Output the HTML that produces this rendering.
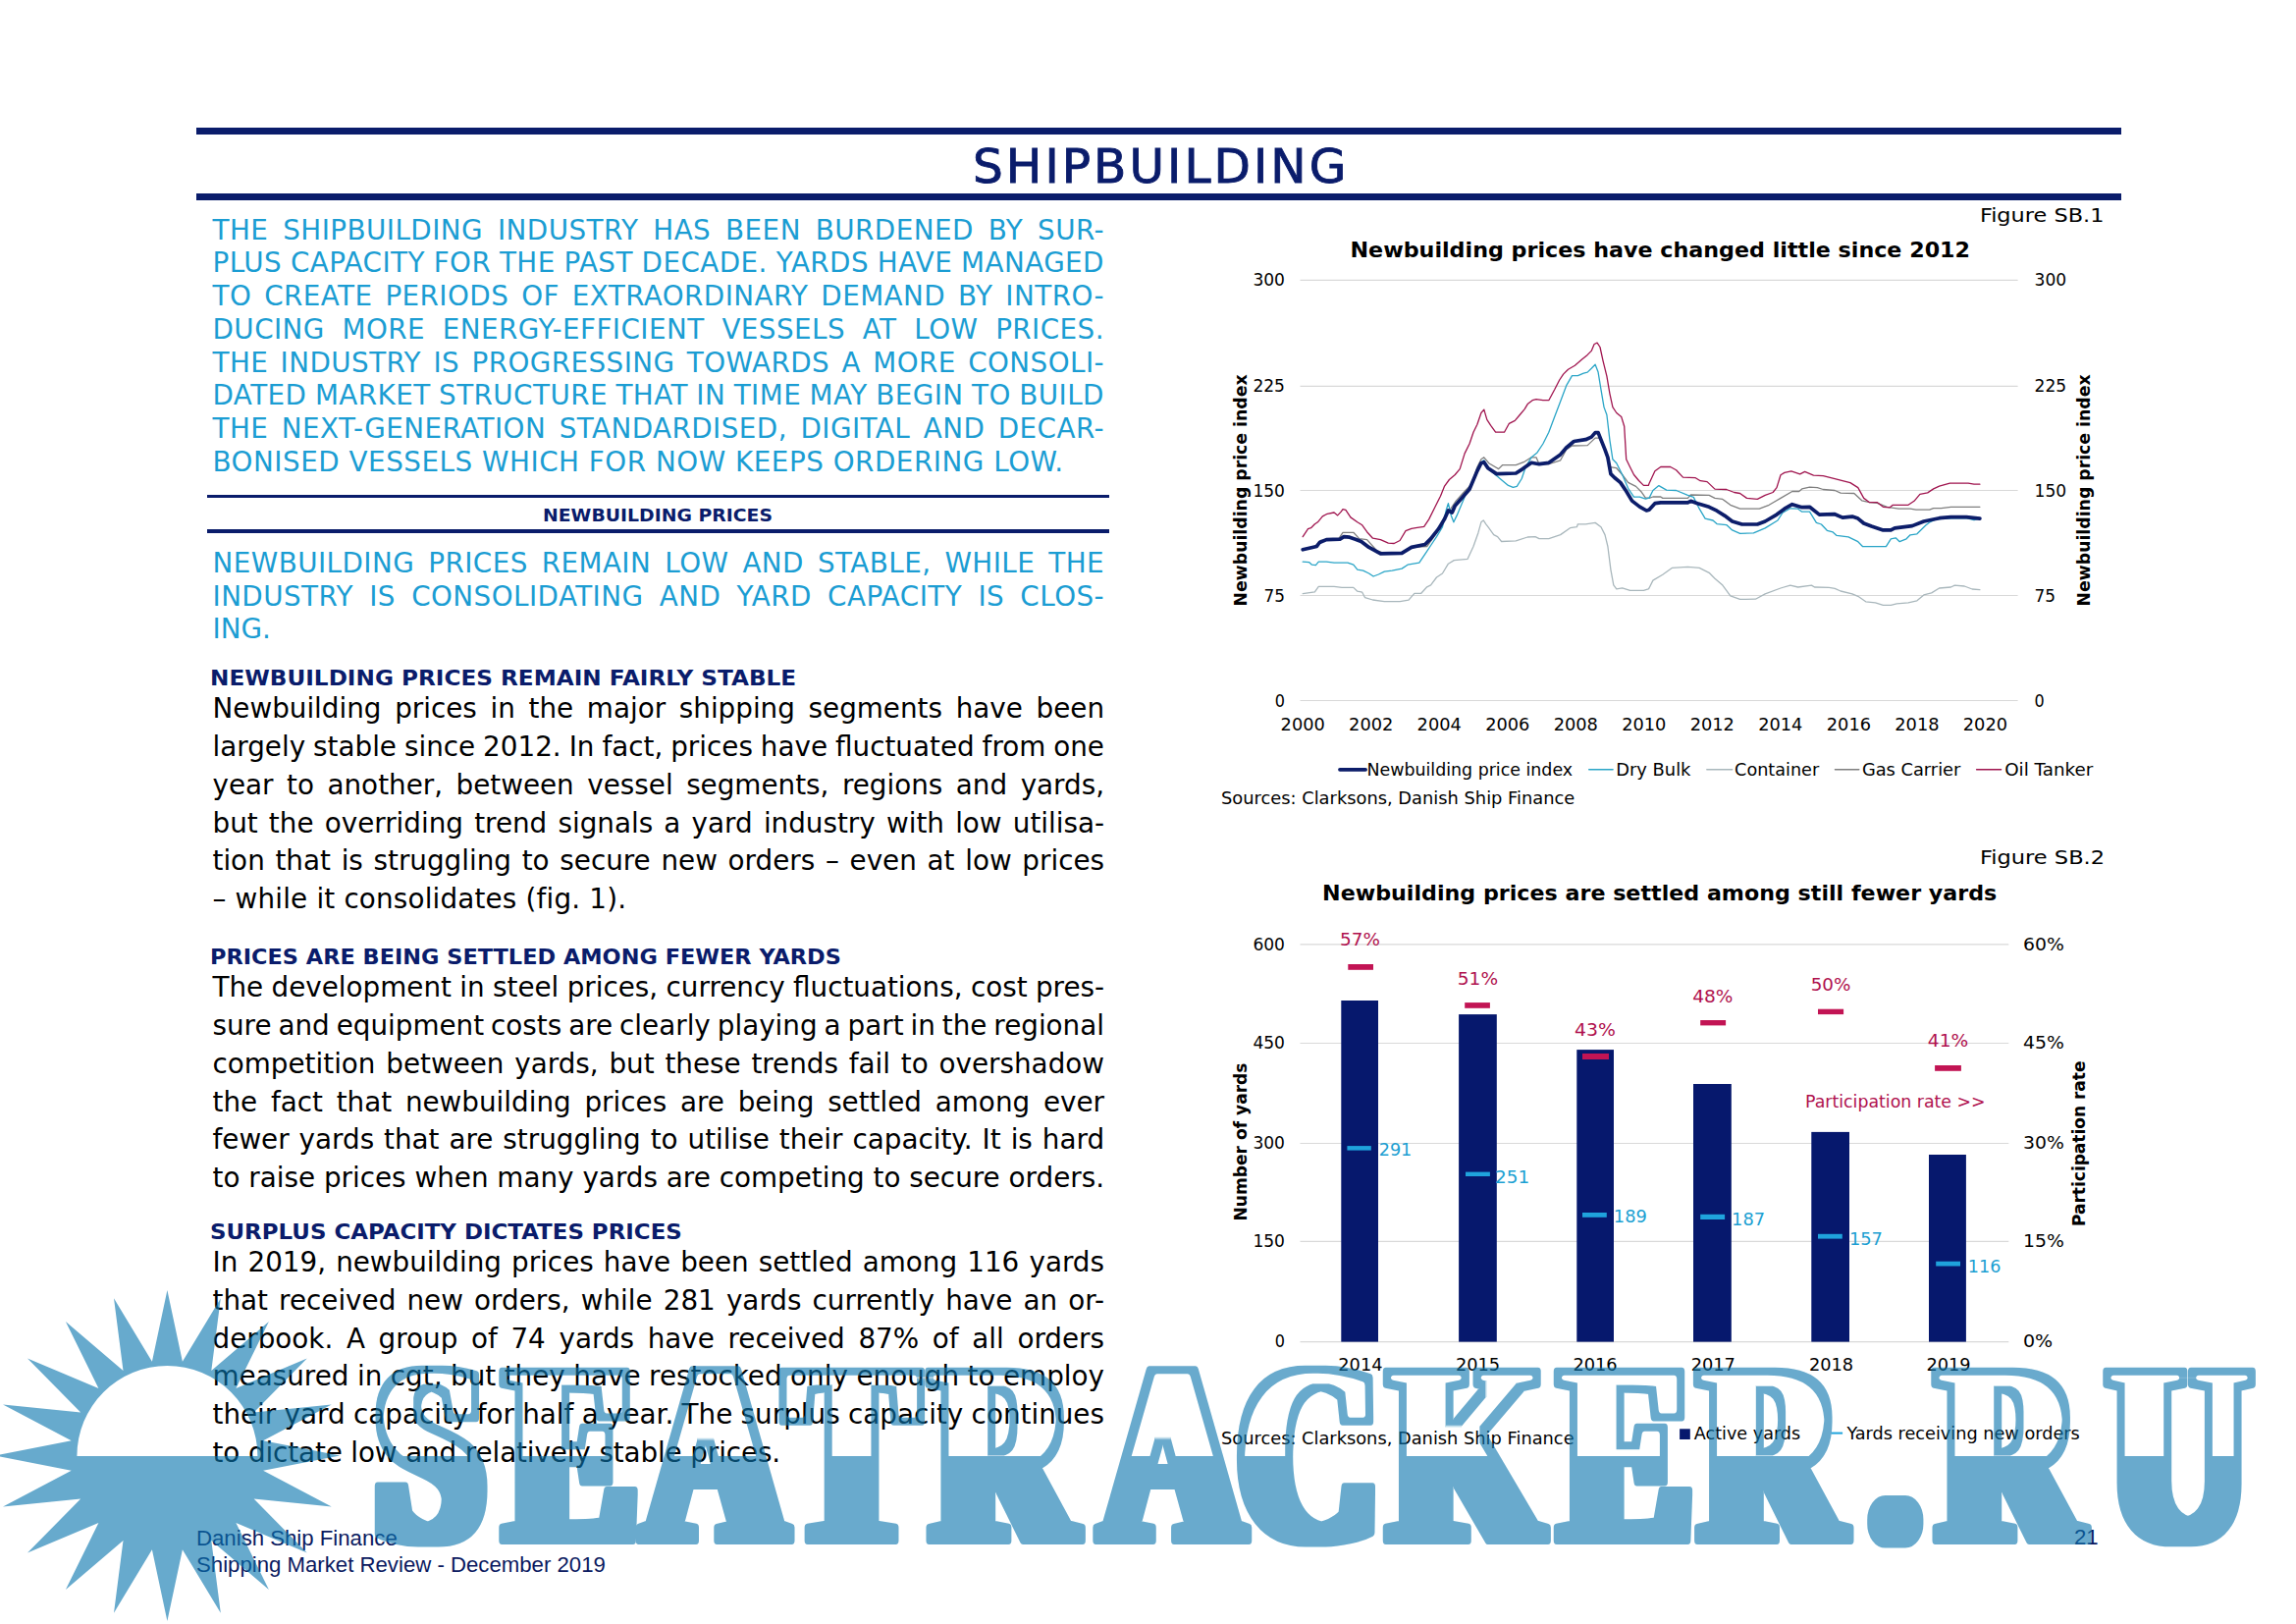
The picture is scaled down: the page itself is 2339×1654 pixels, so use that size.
<!DOCTYPE html>
<html lang="en"><head><meta charset="utf-8"><title>Shipbuilding - Shipping Market Review December 2019</title>
<style>
html,body{margin:0;padding:0;background:#fff}
body{width:2339px;height:1654px;position:relative;overflow:hidden;font-family:"DejaVu Sans", "Liberation Sans", sans-serif;color:#000}
.rule{position:absolute;background:#0a1c6b}
.ln{position:absolute;left:216.5px;white-space:nowrap;line-height:1;margin:0;display:block}
p{margin:0}
.intro{font-size:27.8px;color:#1b9dd3;letter-spacing:0.44px}
.body{font-size:27.8px;color:#000}
.h{font-size:21.2px;font-weight:700;color:#0a1c6b;transform-origin:0 0}
h1{position:absolute;margin:0;font-weight:400;color:#0a1c6b;line-height:1;white-space:nowrap;-webkit-text-stroke:0.9px #0a1c6b}
h2{position:absolute;margin:0;font-weight:700;color:#0a1c6b;line-height:1;white-space:nowrap}
.foot{position:absolute;font-family:"Liberation Sans", sans-serif;color:#0b1a60;font-size:22.2px;line-height:1;white-space:nowrap}
svg{position:absolute;left:0;top:0}
svg text{font-family:"DejaVu Sans", "Liberation Sans", sans-serif}
#watermark text{font-family:"Liberation Serif","DejaVu Serif",serif;font-weight:700}
</style></head><body>

<header>
<div class="rule" style="left:200px;top:130px;width:1961px;height:7px"></div>
<div class="rule" style="left:200px;top:197px;width:1961px;height:6.5px"></div>
<h1 style="left:991.0px;top:145.1px;font-size:48.6px;letter-spacing:3.02px">SHIPBUILDING</h1>
</header>
<main>
<section id="text-column">
<p class="lead">
<span class="ln intro" style="top:220.5px;word-spacing:5.66px;">THE SHIPBUILDING INDUSTRY HAS BEEN BURDENED BY SUR-</span>
<span class="ln intro" style="top:254.2px;word-spacing:-0.51px;">PLUS CAPACITY FOR THE PAST DECADE. YARDS HAVE MANAGED</span>
<span class="ln intro" style="top:288.0px;word-spacing:3.63px;">TO CREATE PERIODS OF EXTRAORDINARY DEMAND BY INTRO-</span>
<span class="ln intro" style="top:321.7px;word-spacing:8.47px;">DUCING MORE ENERGY-EFFICIENT VESSELS AT LOW PRICES.</span>
<span class="ln intro" style="top:355.5px;word-spacing:3.08px;">THE INDUSTRY IS PROGRESSING TOWARDS A MORE CONSOLI-</span>
<span class="ln intro" style="top:389.2px;word-spacing:-0.81px;">DATED MARKET STRUCTURE THAT IN TIME MAY BEGIN TO BUILD</span>
<span class="ln intro" style="top:423.0px;word-spacing:4.24px;">THE NEXT-GENERATION STANDARDISED, DIGITAL AND DECAR-</span>
<span class="ln intro" style="top:456.7px;letter-spacing:0.515px;">BONISED VESSELS WHICH FOR NOW KEEPS ORDERING LOW.</span>
</p>
<div class="rule" style="left:211px;top:504px;width:919px;height:3.4px"></div><h2 style="left:553.3px;top:516.3px;font-size:18px;transform-origin:0 0;transform:scaleX(1.0461)">NEWBUILDING PRICES</h2><div class="rule" style="left:211px;top:539.3px;width:919px;height:3.6px"></div>
<p class="lead">
<span class="ln intro" style="top:559.9px;word-spacing:4.71px;">NEWBUILDING PRICES REMAIN LOW AND STABLE, WHILE THE</span>
<span class="ln intro" style="top:593.5px;word-spacing:6.99px;">INDUSTRY IS CONSOLIDATING AND YARD CAPACITY IS CLOS-</span>
<span class="ln intro" style="top:627.1px;letter-spacing:-0.019px;">ING.</span>
</p>
<h3 class="ln h" style="top:679.7px;transform:scaleX(1.0936);left:214.3px;">NEWBUILDING PRICES REMAIN FAIRLY STABLE</h3>
<p class="para">
<span class="ln body" style="top:708.1px;word-spacing:4.85px;">Newbuilding prices in the major shipping segments have been</span>
<span class="ln body" style="top:746.9px;word-spacing:-0.87px;">largely stable since 2012. In fact, prices have fluctuated from one</span>
<span class="ln body" style="top:785.7px;word-spacing:4.69px;">year to another, between vessel segments, regions and yards,</span>
<span class="ln body" style="top:824.5px;word-spacing:2.37px;">but the overriding trend signals a yard industry with low utilisa-</span>
<span class="ln body" style="top:863.3px;word-spacing:1.88px;">tion that is struggling to secure new orders – even at low prices</span>
<span class="ln body" style="top:902.1px;letter-spacing:0.178px;">– while it consolidates (fig. 1).</span>
</p>
<h3 class="ln h" style="top:963.9px;transform:scaleX(1.0585);left:214.3px;">PRICES ARE BEING SETTLED AMONG FEWER YARDS</h3>
<p class="para">
<span class="ln body" style="top:992.3px;word-spacing:-0.47px;">The development in steel prices, currency fluctuations, cost pres-</span>
<span class="ln body" style="top:1031.0px;word-spacing:-1.89px;">sure and equipment costs are clearly playing a part in the regional</span>
<span class="ln body" style="top:1069.8px;word-spacing:1.96px;">competition between yards, but these trends fail to overshadow</span>
<span class="ln body" style="top:1108.5px;word-spacing:4.94px;">the fact that newbuilding prices are being settled among ever</span>
<span class="ln body" style="top:1147.3px;word-spacing:1.10px;">fewer yards that are struggling to utilise their capacity. It is hard</span>
<span class="ln body" style="top:1186.0px;word-spacing:0.03px;">to raise prices when many yards are competing to secure orders.</span>
</p>
<h3 class="ln h" style="top:1243.8px;transform:scaleX(1.0815);left:214.3px;">SURPLUS CAPACITY DICTATES PRICES</h3>
<p class="para">
<span class="ln body" style="top:1272.1px;word-spacing:1.29px;">In 2019, newbuilding prices have been settled among 116 yards</span>
<span class="ln body" style="top:1310.8px;word-spacing:2.31px;">that received new orders, while 281 yards currently have an or-</span>
<span class="ln body" style="top:1349.5px;word-spacing:4.82px;">derbook. A group of 74 yards have received 87% of all orders</span>
<span class="ln body" style="top:1388.2px;word-spacing:-0.29px;">measured in cgt, but they have restocked only enough to employ</span>
<span class="ln body" style="top:1426.9px;word-spacing:-0.52px;">their yard capacity for half a year. The surplus capacity continues</span>
<span class="ln body" style="top:1465.6px;letter-spacing:-0.118px;">to dictate low and relatively stable prices.</span>
</p>
</section>
<section id="figures">
<svg width="2339" height="1654" viewBox="0 0 2339 1654" font-size="18">
<g id="chart-sb1">
<text x="2016.9" y="225.7" textLength="126.5" lengthAdjust="spacingAndGlyphs" font-size="19.4">Figure SB.1</text>
<text x="1375.5" y="261.6" textLength="631.5" lengthAdjust="spacingAndGlyphs" font-weight="700" font-size="20.8">Newbuilding prices have changed little since 2012</text>
<line x1="1324.5" x2="2055.6" y1="285.4" y2="285.4" stroke="#d9d9d9" stroke-width="1.2"/>
<line x1="1324.5" x2="2055.6" y1="393.3" y2="393.3" stroke="#d9d9d9" stroke-width="1.2"/>
<line x1="1324.5" x2="2055.6" y1="499.5" y2="499.5" stroke="#d9d9d9" stroke-width="1.2"/>
<line x1="1324.5" x2="2055.6" y1="606.5" y2="606.5" stroke="#d9d9d9" stroke-width="1.2"/>
<line x1="1324.5" x2="2055.6" y1="713.5" y2="713.5" stroke="#d9d9d9" stroke-width="1.2"/>
<text x="1276.4" y="291.4" textLength="32.6" lengthAdjust="spacingAndGlyphs">300</text>
<text x="2072.6" y="291.4" textLength="32.6" lengthAdjust="spacingAndGlyphs">300</text>
<text x="1276.4" y="399.3" textLength="32.6" lengthAdjust="spacingAndGlyphs">225</text>
<text x="2072.6" y="399.3" textLength="32.6" lengthAdjust="spacingAndGlyphs">225</text>
<text x="1276.4" y="505.5" textLength="32.6" lengthAdjust="spacingAndGlyphs">150</text>
<text x="2072.6" y="505.5" textLength="32.6" lengthAdjust="spacingAndGlyphs">150</text>
<text x="1287.5" y="612.5" textLength="21.5" lengthAdjust="spacingAndGlyphs">75</text>
<text x="2072.6" y="612.5" textLength="21.5" lengthAdjust="spacingAndGlyphs">75</text>
<text x="1298.8" y="719.5" textLength="10.2" lengthAdjust="spacingAndGlyphs">0</text>
<text x="2072.6" y="719.5" textLength="10.2" lengthAdjust="spacingAndGlyphs">0</text>
<text x="1304.6" y="743.6" textLength="45.2" lengthAdjust="spacingAndGlyphs">2000</text>
<text x="1374.1" y="743.6" textLength="45.2" lengthAdjust="spacingAndGlyphs">2002</text>
<text x="1443.6" y="743.6" textLength="45.2" lengthAdjust="spacingAndGlyphs">2004</text>
<text x="1513.2" y="743.6" textLength="45.2" lengthAdjust="spacingAndGlyphs">2006</text>
<text x="1582.7" y="743.6" textLength="45.2" lengthAdjust="spacingAndGlyphs">2008</text>
<text x="1652.2" y="743.6" textLength="45.2" lengthAdjust="spacingAndGlyphs">2010</text>
<text x="1721.7" y="743.6" textLength="45.2" lengthAdjust="spacingAndGlyphs">2012</text>
<text x="1791.2" y="743.6" textLength="45.2" lengthAdjust="spacingAndGlyphs">2014</text>
<text x="1860.8" y="743.6" textLength="45.2" lengthAdjust="spacingAndGlyphs">2016</text>
<text x="1930.3" y="743.6" textLength="45.2" lengthAdjust="spacingAndGlyphs">2018</text>
<text x="1999.8" y="743.6" textLength="45.2" lengthAdjust="spacingAndGlyphs">2020</text>
<polyline fill="none" stroke="#a9b7bc" stroke-width="1.3" stroke-linejoin="round" stroke-linecap="round" points="1327.2,604.7 1339.4,602.8 1343.3,597.4 1359.1,597.4 1367.0,598.4 1378.8,598.4 1382.8,602.2 1387.7,603.2 1390.6,608.7 1398.5,611.0 1410.3,612.6 1426.1,612.6 1435.0,611.2 1440.9,604.3 1447.8,604.3 1453.7,597.8 1457.6,595.9 1463.5,588.0 1469.5,584.0 1475.4,574.2 1481.3,570.6 1495.1,569.3 1501.0,556.5 1505.9,542.7 1508.9,531.8 1511.2,529.9 1513.8,533.8 1516.7,537.7 1521.7,544.6 1525.6,546.6 1529.6,551.5 1544.3,550.9 1556.2,547.0 1564.0,546.6 1568.0,548.6 1577.8,548.6 1589.7,544.6 1599.5,537.7 1606.4,536.7 1607.4,533.8 1615.3,533.8 1625.1,532.4 1631.0,536.7 1635.0,544.6 1637.9,556.5 1640.9,580.1 1643.8,595.9 1646.8,599.8 1652.7,598.8 1660.6,601.4 1674.4,601.4 1679.3,599.8 1680.0,599.0 1683.9,591.1 1693.8,585.2 1703.6,578.3 1719.4,577.3 1731.2,578.3 1741.1,583.3 1747.0,589.2 1754.9,596.1 1762.8,606.9 1772.6,610.4 1788.4,610.2 1798.2,604.9 1814.0,599.0 1823.8,596.1 1831.7,598.0 1845.5,596.1 1848.5,598.0 1863.3,598.4 1869.2,599.4 1875.1,602.0 1886.9,604.9 1892.8,607.3 1900.7,612.8 1910.5,613.8 1918.4,616.4 1926.3,616.4 1932.2,614.8 1944.0,613.8 1952.9,611.8 1959.8,605.9 1967.7,603.9 1975.6,599.0 1987.4,598.0 1991.3,596.1 2001.2,597.0 2009.1,600.0 2016.9,600.6"/>
<polyline fill="none" stroke="#7f7f7f" stroke-width="1.3" stroke-linejoin="round" stroke-linecap="round" points="1327.2,559.4 1339.4,556.5 1345.3,550.5 1363.1,549.6 1368.0,542.3 1378.8,542.3 1384.7,548.6 1392.6,549.6 1402.5,560.8 1410.3,563.3 1428.1,562.4 1437.9,557.4 1453.7,556.5 1463.5,542.7 1471.4,526.9 1477.3,519.0 1483.3,510.1 1493.1,499.3 1499.0,493.4 1504.9,475.7 1508.9,467.8 1511.8,465.8 1516.7,471.7 1526.6,477.6 1530.5,473.7 1544.3,473.7 1552.2,470.7 1560.1,465.8 1565.0,465.8 1568.0,472.7 1577.8,472.7 1589.7,468.8 1595.6,457.9 1601.5,454.0 1617.2,453.6 1625.1,446.1 1629.1,446.1 1635.0,457.9 1639.9,475.7 1646.8,476.7 1652.7,483.5 1658.6,491.4 1666.5,495.4 1672.4,501.3 1676.4,507.2 1679.9,507.2 1680.0,507.4 1683.9,506.0 1691.8,506.0 1693.8,507.4 1719.4,507.4 1722.4,504.0 1741.1,504.4 1747.0,507.4 1754.9,508.4 1762.8,514.3 1772.6,518.2 1792.3,518.2 1802.2,514.3 1814.0,507.4 1825.8,500.5 1832.7,500.5 1835.7,497.9 1843.5,496.2 1851.4,496.6 1857.3,498.5 1869.2,499.5 1875.1,502.1 1888.9,502.5 1896.7,509.8 1904.6,511.7 1912.5,512.3 1922.4,516.3 1934.2,518.2 1946.0,518.2 1951.9,519.2 1965.7,519.2 1969.7,517.6 1977.5,517.6 1987.4,516.3 2016.9,516.3"/>
<polyline fill="none" stroke="#2aa5c7" stroke-width="1.3" stroke-linejoin="round" stroke-linecap="round" points="1327.2,572.2 1333.5,572.6 1336.5,575.2 1340.4,575.6 1343.3,572.2 1351.2,572.2 1359.1,573.2 1372.9,573.2 1378.8,575.2 1382.8,580.1 1388.7,581.1 1394.6,584.0 1399.1,587.0 1404.4,585.0 1410.3,582.1 1418.2,581.1 1428.1,579.1 1434.0,575.2 1445.8,573.2 1451.7,564.3 1457.6,555.5 1463.5,546.6 1469.5,536.7 1473.4,519.0 1475.4,512.7 1478.3,524.9 1480.9,531.8 1484.2,524.9 1489.2,513.1 1494.1,501.3 1499.0,493.4 1504.9,477.6 1508.9,470.7 1511.8,468.8 1514.8,473.7 1518.7,479.6 1524.6,484.5 1530.5,489.5 1536.5,494.4 1541.4,496.4 1545.3,495.4 1550.2,487.5 1554.2,475.7 1560.1,465.8 1566.0,460.9 1571.9,452.0 1577.8,440.2 1583.7,424.4 1589.7,408.7 1595.6,392.9 1601.5,382.7 1607.4,382.7 1613.3,380.1 1617.2,379.1 1621.2,375.2 1625.1,371.2 1628.1,379.1 1631.0,396.8 1634.0,414.6 1636.9,422.5 1639.9,448.1 1642.9,467.8 1646.8,471.7 1652.7,483.5 1658.6,497.3 1664.5,506.2 1670.4,506.2 1676.4,508.2 1679.9,507.2 1680.0,507.4 1683.9,499.5 1689.9,494.6 1697.7,499.1 1707.6,499.5 1719.4,504.4 1725.3,506.4 1731.2,518.2 1737.1,528.1 1745.0,530.0 1749.0,533.6 1758.8,534.6 1764.7,539.9 1772.6,543.4 1786.4,542.9 1798.2,537.9 1811.0,530.0 1816.0,522.2 1823.8,517.8 1831.7,518.2 1835.7,521.2 1843.5,521.2 1850.4,532.4 1855.4,534.0 1861.3,540.3 1867.2,541.9 1871.1,545.4 1883.0,546.8 1892.8,551.7 1897.7,556.7 1921.4,556.7 1926.3,548.8 1931.2,547.8 1935.2,551.7 1942.1,548.8 1946.0,544.8 1952.9,543.8 1961.8,535.0 1965.7,532.0 1971.6,529.1 1979.5,528.1 2003.2,527.7 2011.0,529.5 2016.9,528.1"/>
<polyline fill="none" stroke="#a0154f" stroke-width="1.3" stroke-linejoin="round" stroke-linecap="round" points="1327.2,546.6 1332.5,538.7 1335.5,537.7 1339.4,533.8 1342.4,531.8 1347.3,525.9 1352.2,523.3 1359.1,522.0 1362.7,524.9 1366.0,521.4 1368.0,518.6 1370.9,519.4 1375.9,526.9 1382.8,531.8 1387.7,534.8 1392.6,541.7 1398.5,548.2 1406.4,549.6 1414.3,553.1 1420.2,553.5 1426.1,550.5 1432.0,540.7 1437.9,538.3 1443.8,537.3 1450.7,536.4 1455.7,528.9 1461.6,517.0 1467.5,505.2 1471.4,495.4 1476.4,488.5 1482.3,483.5 1487.2,477.6 1492.1,461.9 1497.0,452.0 1501.0,440.2 1504.9,432.3 1508.9,420.5 1511.8,417.1 1514.8,427.4 1518.7,433.3 1523.6,440.2 1532.5,440.2 1537.4,431.3 1543.3,428.4 1548.3,422.5 1553.2,416.6 1556.2,411.6 1561.1,407.7 1565.0,406.7 1571.9,407.7 1577.8,407.7 1583.7,396.8 1588.7,387.0 1592.6,381.1 1597.5,376.2 1604.4,372.2 1611.3,366.3 1617.2,361.4 1621.2,357.4 1624.1,350.5 1627.1,349.2 1630.0,353.5 1633.0,367.3 1636.9,383.1 1639.9,400.8 1642.9,414.6 1646.8,420.5 1651.7,424.4 1654.7,434.3 1656.7,467.8 1660.6,475.7 1664.5,483.5 1669.5,489.5 1674.4,494.4 1679.3,494.4 1680.0,492.6 1685.9,479.8 1691.8,475.5 1701.7,475.5 1707.6,478.8 1714.5,486.1 1727.3,486.7 1732.2,489.7 1739.1,490.6 1747.0,498.1 1758.8,498.5 1766.7,501.5 1772.6,502.5 1779.5,507.4 1790.3,508.4 1798.2,504.4 1806.1,501.5 1810.0,496.6 1814.0,483.7 1817.9,481.4 1824.8,479.8 1833.7,482.8 1838.6,480.4 1847.5,484.1 1857.3,484.7 1869.2,487.7 1877.0,489.7 1884.9,491.6 1892.8,496.6 1898.7,507.4 1904.6,511.7 1912.5,511.7 1918.4,516.3 1925.3,516.8 1928.3,514.3 1944.0,514.3 1950.0,510.3 1955.9,503.4 1963.7,501.9 1969.7,497.9 1975.6,495.2 1986.4,492.2 2005.1,492.2 2011.0,493.2 2016.9,493.2"/>
<polyline fill="none" stroke="#0c1d6a" stroke-width="3.7" stroke-linejoin="round" stroke-linecap="round" points="1327.2,559.8 1341.4,556.5 1344.3,552.5 1351.2,549.6 1365.0,549.2 1369.0,546.6 1374.9,547.2 1380.8,549.2 1386.7,551.5 1394.6,557.4 1406.4,563.9 1428.1,563.3 1437.9,557.4 1451.7,554.5 1457.6,548.6 1465.5,538.7 1471.4,528.9 1475.4,520.0 1479.3,522.0 1482.3,515.1 1489.2,507.2 1497.0,498.3 1504.9,479.6 1508.9,471.7 1511.8,470.7 1515.8,476.7 1524.6,482.6 1544.3,482.0 1551.2,477.6 1560.1,471.3 1568.0,472.7 1577.8,471.3 1589.7,462.9 1595.6,456.0 1603.4,449.5 1615.3,447.7 1621.2,445.1 1625.1,440.6 1628.1,440.6 1635.0,457.9 1637.9,465.8 1640.9,482.6 1644.8,486.5 1650.7,491.4 1656.7,500.3 1662.6,510.1 1670.4,516.1 1677.3,520.0 1680.0,519.2 1685.9,512.7 1691.8,511.9 1719.4,511.9 1722.4,510.3 1729.3,512.7 1741.1,516.3 1749.0,520.2 1756.8,525.1 1764.7,531.0 1774.6,534.0 1790.3,534.0 1798.2,531.0 1810.0,524.1 1817.9,518.2 1825.8,513.7 1835.7,516.7 1843.5,516.3 1853.4,524.1 1869.2,523.7 1877.0,527.1 1886.9,526.1 1892.8,528.1 1898.7,533.0 1906.6,536.0 1918.4,539.9 1926.3,539.9 1930.2,537.9 1948.0,535.6 1959.8,531.0 1975.6,527.7 1987.4,526.7 2003.2,526.7 2016.9,528.1"/>
<text transform="translate(1269.6,617.4) rotate(-90)" font-weight="700" font-size="18" textLength="236" lengthAdjust="spacingAndGlyphs">Newbuilding price index</text>
<text transform="translate(2128.6,617.4) rotate(-90)" font-weight="700" font-size="18" textLength="236" lengthAdjust="spacingAndGlyphs">Newbuilding price index</text>
<line x1="1365.0" x2="1391.1" y1="783.8" y2="783.8" stroke="#0c1d6a" stroke-width="3.8" stroke-linecap="round"/>
<text x="1392.5" y="789.9" textLength="209.6" lengthAdjust="spacingAndGlyphs">Newbuilding price index</text>
<line x1="1618.7" x2="1643.1" y1="783.8" y2="783.8" stroke="#2aa5c7" stroke-width="1.4" stroke-linecap="round"/>
<text x="1646.2" y="789.9" textLength="76.3" lengthAdjust="spacingAndGlyphs">Dry Bulk</text>
<line x1="1738.8" x2="1764.7" y1="783.8" y2="783.8" stroke="#a9b7bc" stroke-width="1.4" stroke-linecap="round"/>
<text x="1767.1" y="789.9" textLength="86.1" lengthAdjust="spacingAndGlyphs">Container</text>
<line x1="1869.4" x2="1893.8" y1="783.8" y2="783.8" stroke="#7f7f7f" stroke-width="1.4" stroke-linecap="round"/>
<text x="1896.9" y="789.9" textLength="100.5" lengthAdjust="spacingAndGlyphs">Gas Carrier</text>
<line x1="2013.6" x2="2038.6" y1="783.8" y2="783.8" stroke="#a0154f" stroke-width="1.4" stroke-linecap="round"/>
<text x="2042.2" y="789.9" textLength="90.2" lengthAdjust="spacingAndGlyphs">Oil Tanker</text>
<text x="1244.0" y="818.7" textLength="360.3" lengthAdjust="spacingAndGlyphs">Sources: Clarksons, Danish Ship Finance</text>
</g>
<g id="chart-sb2">
<text x="2016.9" y="880.3" textLength="127.2" lengthAdjust="spacingAndGlyphs" font-size="19.4">Figure SB.2</text>
<text x="1347.1" y="916.6" textLength="687.2" lengthAdjust="spacingAndGlyphs" font-weight="700" font-size="20.8">Newbuilding prices are settled among still fewer yards</text>
<line x1="1324.5" x2="2046.3" y1="961.9" y2="961.9" stroke="#d9d9d9" stroke-width="1.2"/>
<line x1="1324.5" x2="2046.3" y1="1062.5" y2="1062.5" stroke="#d9d9d9" stroke-width="1.2"/>
<line x1="1324.5" x2="2046.3" y1="1164.5" y2="1164.5" stroke="#d9d9d9" stroke-width="1.2"/>
<line x1="1324.5" x2="2046.3" y1="1264.4" y2="1264.4" stroke="#d9d9d9" stroke-width="1.2"/>
<line x1="1324.5" x2="2046.3" y1="1366.6" y2="1366.6" stroke="#d9d9d9" stroke-width="1.2"/>
<text x="1276.4" y="967.5" textLength="32.6" lengthAdjust="spacingAndGlyphs">600</text>
<text x="2061.0" y="967.5" textLength="41.8" lengthAdjust="spacingAndGlyphs">60%</text>
<text x="1276.4" y="1068.1" textLength="32.6" lengthAdjust="spacingAndGlyphs">450</text>
<text x="2061.0" y="1068.1" textLength="41.8" lengthAdjust="spacingAndGlyphs">45%</text>
<text x="1276.4" y="1170.1" textLength="32.6" lengthAdjust="spacingAndGlyphs">300</text>
<text x="2061.0" y="1170.1" textLength="41.8" lengthAdjust="spacingAndGlyphs">30%</text>
<text x="1276.4" y="1270.0" textLength="32.6" lengthAdjust="spacingAndGlyphs">150</text>
<text x="2061.0" y="1270.0" textLength="41.8" lengthAdjust="spacingAndGlyphs">15%</text>
<text x="1298.8" y="1372.2" textLength="10.2" lengthAdjust="spacingAndGlyphs">0</text>
<text x="2061.0" y="1372.2" textLength="30.2" lengthAdjust="spacingAndGlyphs">0%</text>
<rect x="1366.3" y="1019.0" width="37.7" height="347.6" fill="#06186d"/>
<rect x="1486.1" y="1033.1" width="38.7" height="333.5" fill="#06186d"/>
<rect x="1606.3" y="1069.1" width="37.7" height="297.5" fill="#06186d"/>
<rect x="1725.0" y="1104.0" width="38.8" height="262.6" fill="#06186d"/>
<rect x="1845.3" y="1152.9" width="38.7" height="213.7" fill="#06186d"/>
<rect x="1965.0" y="1176.0" width="37.9" height="190.6" fill="#06186d"/>
<rect x="1373.3" y="982.0" width="25.7" height="5.8" fill="#c21454"/>
<text x="1365.1" y="963.4" textLength="40.8" lengthAdjust="spacingAndGlyphs" fill="#b0114e">57%</text>
<rect x="1492.2" y="1021.1" width="25.7" height="5.7" fill="#c21454"/>
<text x="1484.8" y="1002.6" textLength="41.3" lengthAdjust="spacingAndGlyphs" fill="#b0114e">51%</text>
<rect x="1612.0" y="1073.0" width="27.0" height="6.0" fill="#c21454"/>
<text x="1604.0" y="1054.9" textLength="41.8" lengthAdjust="spacingAndGlyphs" fill="#b0114e">43%</text>
<rect x="1732.2" y="1039.0" width="25.9" height="5.4" fill="#c21454"/>
<text x="1724.2" y="1020.5" textLength="41.3" lengthAdjust="spacingAndGlyphs" fill="#b0114e">48%</text>
<rect x="1852.0" y="1027.7" width="26.1" height="5.4" fill="#c21454"/>
<text x="1844.7" y="1008.5" textLength="40.8" lengthAdjust="spacingAndGlyphs" fill="#b0114e">50%</text>
<rect x="1971.1" y="1085.0" width="26.8" height="5.8" fill="#c21454"/>
<text x="1963.8" y="1065.8" textLength="41.4" lengthAdjust="spacingAndGlyphs" fill="#b0114e">41%</text>
<rect x="1372.4" y="1167.1" width="24.4" height="4.5" fill="#1fa3dc"/>
<text x="1404.7" y="1177.3" textLength="33.6" lengthAdjust="spacingAndGlyphs" fill="#1c9fd2">291</text>
<rect x="1493.0" y="1193.6" width="24.9" height="4.4" fill="#1fa3dc"/>
<text x="1523.0" y="1204.5" textLength="35.1" lengthAdjust="spacingAndGlyphs" fill="#1c9fd2">251</text>
<rect x="1612.0" y="1235.0" width="24.8" height="4.8" fill="#1fa3dc"/>
<text x="1643.8" y="1244.8" textLength="34.0" lengthAdjust="spacingAndGlyphs" fill="#1c9fd2">189</text>
<rect x="1732.2" y="1236.8" width="24.9" height="5.2" fill="#1fa3dc"/>
<text x="1764.1" y="1247.6" textLength="34.0" lengthAdjust="spacingAndGlyphs" fill="#1c9fd2">187</text>
<rect x="1852.0" y="1256.8" width="24.8" height="4.8" fill="#1fa3dc"/>
<text x="1883.9" y="1267.7" textLength="34.0" lengthAdjust="spacingAndGlyphs" fill="#1c9fd2">157</text>
<rect x="1972.2" y="1284.7" width="24.8" height="4.8" fill="#1fa3dc"/>
<text x="2004.8" y="1295.6" textLength="33.5" lengthAdjust="spacingAndGlyphs" fill="#1c9fd2">116</text>
<text x="1363.3" y="1395.7" textLength="45.2" lengthAdjust="spacingAndGlyphs">2014</text>
<text x="1482.9" y="1395.7" textLength="45.2" lengthAdjust="spacingAndGlyphs">2015</text>
<text x="1602.4" y="1395.7" textLength="45.2" lengthAdjust="spacingAndGlyphs">2016</text>
<text x="1722.7" y="1395.7" textLength="45.2" lengthAdjust="spacingAndGlyphs">2017</text>
<text x="1842.9" y="1395.7" textLength="45.2" lengthAdjust="spacingAndGlyphs">2018</text>
<text x="1962.4" y="1395.7" textLength="45.2" lengthAdjust="spacingAndGlyphs">2019</text>
<text x="1839.0" y="1127.7" textLength="183.6" lengthAdjust="spacingAndGlyphs" fill="#b0114e">Participation rate &gt;&gt;</text>
<text transform="translate(1269.6,1243.5) rotate(-90)" font-weight="700" font-size="18" textLength="161" lengthAdjust="spacingAndGlyphs">Number of yards</text>
<text transform="translate(2124.2,1249.0) rotate(-90)" font-weight="700" font-size="18" textLength="168.5" lengthAdjust="spacingAndGlyphs">Participation rate</text>
<rect x="1711.1" y="1455.3" width="10.7" height="10.7" fill="#06186d"/>
<text x="1725.8" y="1466.4" textLength="108.4" lengthAdjust="spacingAndGlyphs">Active yards</text>
<line x1="1865.5" x2="1877.1" y1="1459.6" y2="1459.6" stroke="#1fa3dc" stroke-width="2"/>
<text x="1881.4" y="1466.4" textLength="237.4" lengthAdjust="spacingAndGlyphs">Yards receiving new orders</text>
<text x="1244.0" y="1471.0" textLength="359.6" lengthAdjust="spacingAndGlyphs">Sources: Clarksons, Danish Ship Finance</text>
</g>
</svg>
</section>
</main>
<footer>
<div class="foot" style="left:200px;top:1556.2px">Danish Ship Finance</div>
<div class="foot" style="left:200px;top:1583.3px">Shipping Market Review - December 2019</div>
<div class="foot" style="left:2113px;top:1555.0px">21</div>
</footer>
<svg id="watermark" width="2339" height="1654" viewBox="0 0 2339 1654" style="pointer-events:none">
<defs>
<filter id="wm-solid" filterUnits="userSpaceOnUse" x="300" y="1340" width="2039" height="280"><feMorphology operator="dilate" radius="10 2"/></filter>
<filter id="wm-ring" filterUnits="userSpaceOnUse" x="300" y="1340" width="2039" height="280"><feMorphology operator="dilate" radius="10 2" result="o"/><feMorphology in="o" operator="erode" radius="8 8" result="i"/><feComposite in="o" in2="i" operator="out"/></filter>
<clipPath id="wm-top"><rect x="0" y="1300" width="2339" height="183.0"/></clipPath>
<clipPath id="wm-low"><rect x="0" y="1483.0" width="2339" height="200"/></clipPath>
</defs>
<g opacity="0.62" fill="#0a76ae" stroke="#0a76ae">
<path stroke="none" fill-rule="evenodd" d="M170.4,1313.9 L185.9,1386.7 L224.8,1322.2 L215.3,1396.1 L273.9,1346.1 L240.4,1413.9 L312.8,1383.4 L258.6,1438.5 L337.8,1430.4 L268.1,1467.3 L346.4,1482.5 L268.1,1497.7 L337.8,1534.6 L258.6,1526.5 L312.8,1581.6 L240.4,1551.1 L273.9,1618.9 L215.3,1568.9 L224.8,1642.8 L185.9,1578.3 L170.4,1651.1 L154.9,1578.3 L116.0,1642.8 L125.5,1568.9 L66.9,1618.9 L100.4,1551.1 L28.0,1581.6 L82.2,1526.5 L3.0,1534.6 L72.7,1497.7 L-5.6,1482.5 L72.7,1467.3 L3.0,1430.4 L82.2,1438.5 L28.0,1383.4 L100.4,1413.9 L66.9,1346.1 L125.5,1396.1 L116.0,1322.2 L154.9,1386.7Z M78.4,1483.0 A92,92 0 0 1 262.4,1483.0 Z"/>
<g clip-path="url(#wm-top)"><g filter="url(#wm-ring)"><text transform="scale(0.75,1)" x="512.7 690.7 878.3 1071.3 1269.3 1499.3 1684.7 1891.3 2123.3 2312.8 2542.3 2636.0 2867.3" y="1567.0" font-size="257" stroke-width="8" stroke-linejoin="round">SEATRACKER.RU</text></g></g>
<g clip-path="url(#wm-low)"><g filter="url(#wm-solid)"><text transform="scale(0.75,1)" x="512.7 690.7 878.3 1071.3 1269.3 1499.3 1684.7 1891.3 2123.3 2312.8 2542.3 2636.0 2867.3" y="1567.0" font-size="257" stroke-width="8" stroke-linejoin="round">SEATRACKER.RU</text></g></g>
</g></svg>
</body></html>
